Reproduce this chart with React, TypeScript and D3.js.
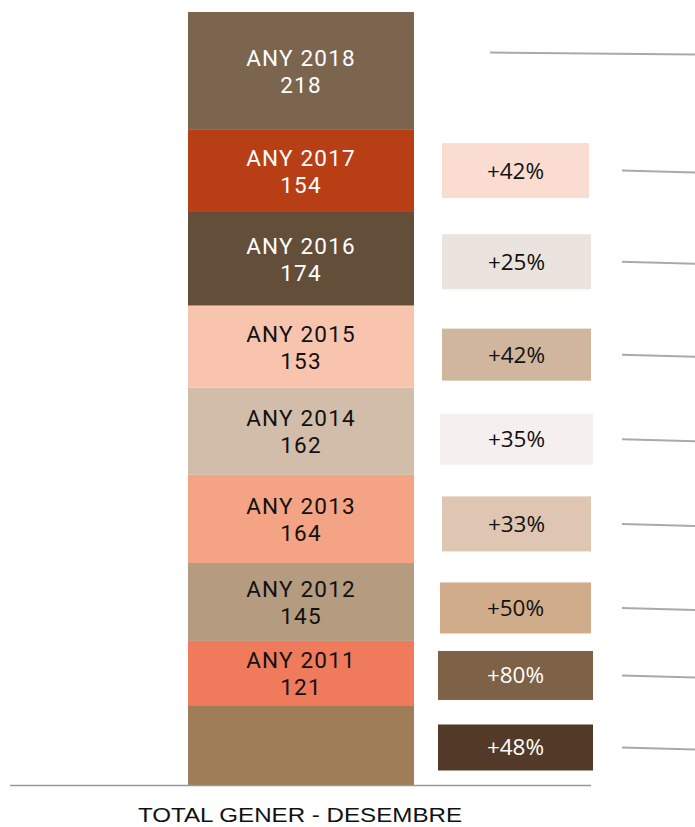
import React from "react";
import * as d3 from "d3";

const years = ["2010", "2011", "2012", "2013", "2014", "2015", "2016", "2017", "2018"];
const values = [147, 121, 145, 164, 162, 153, 174, 154, 218];
const showLabel = [false, true, true, true, true, true, true, true, true];
const segColors = ["#9f7d58", "#f07a5c", "#b59b80", "#f4a384", "#d2bdab", "#f9c4ae", "#634e39", "#b83e15", "#7b654e"];
const segText = ["#fff", "#111", "#111", "#111", "#111", "#111", "#fff", "#fff", "#fff"];

// growth annotations (per segment, 2018 has none)
const growth = ["+48%", "+80%", "+50%", "+33%", "+35%", "+42%", "+25%", "+42%", null];
const growthFill = ["#533a28", "#7d6247", "#d1ac8a", "#dfc6b3", "#f5f0ed", "#d0b69d", "#ebe3dd", "#fbdcd1", null];
const growthText = ["#fff", "#fff", "#111", "#111", "#111", "#111", "#111", "#111", null];
const growthNudge = [2, 2, 6, 5, 8, 8, 3, 0, -18];
const growthBoxH = [46, 49, 51, 55, 51, 52, 55, 55, 0];
const growthBoxX = [438, 438, 440, 442, 440, 442, 442, 442, 0];
const growthBoxW = [155, 155, 151, 149, 153, 149, 149, 147, 0];

const axisLabel = "TOTAL GENER - DESEMBRE";

export default function App() {
  const W = 695, H = 827;
  const total = d3.sum(values);
  const y = d3.scaleLinear().domain([0, total]).range([785, 12]);
  const x = d3.scaleBand().domain(["TOTAL"]).range([188, 414]).padding(0);
  const stacked = d3.cumsum(values);
  const segs = values.map((v, i) => {
    const top = stacked[i];
    const bot = top - v;
    return { i, y0: y(top), y1: y(bot), mid: (y(top) + y(bot)) / 2 };
  });
  const bx = x("TOTAL")!;
  const bw = x.bandwidth();
  const font = "'Open Sans', sans-serif";
  const labelFont = "Roboto, 'Open Sans', sans-serif";
  return (
    <svg width={W} height={H} style={{ position: "absolute", left: 0, top: 0, display: "block" }}>
      <rect width={W} height={H} fill="#fff" />
      {segs.map((s) => (
        <g key={years[s.i]}>
          <rect x={bx} y={s.y0} width={bw} height={s.y1 - s.y0} fill={segColors[s.i]} />
          {showLabel[s.i] && (
            <>
              <text x={bx + bw / 2} y={s.mid - 5} textAnchor="middle" fill={segText[s.i]} fontFamily={labelFont} fontSize={22.5} letterSpacing={1.2}>
                {`ANY ${years[s.i]}`}
              </text>
              <text x={bx + bw / 2} y={s.mid + 22} textAnchor="middle" fill={segText[s.i]} fontFamily={labelFont} fontSize={22.5} letterSpacing={1.2}>
                {values[s.i]}
              </text>
            </>
          )}
        </g>
      ))}
      {segs.map((s) => {
        const cy = s.mid + growthNudge[s.i];
        const g = growth[s.i];
        return (
          <g key={"g" + s.i}>
            <line x1={g ? 622 : 490} x2={695} y1={cy} y2={cy + 2} stroke="#aaaaaa" strokeWidth={2} />
            {g && (
              <>
                <rect x={growthBoxX[s.i]} y={cy - growthBoxH[s.i] / 2} width={growthBoxW[s.i]} height={growthBoxH[s.i]} fill={growthFill[s.i]!} />
                <text x={growthBoxX[s.i] + growthBoxW[s.i] / 2} y={cy + 8} textAnchor="middle" fill={growthText[s.i]!} fontFamily={font} fontSize={22.5}>
                  {g}
                </text>
              </>
            )}
          </g>
        );
      })}
      <line x1={10} x2={591} y1={785.5} y2={785.5} stroke="#999" strokeWidth={1.5} />
      <text x={138} y={822} textLength={324} lengthAdjust="spacingAndGlyphs" fill="#111" fontFamily="'Liberation Sans', Arial, sans-serif" fontSize={21}>
        {axisLabel}
      </text>
    </svg>
  );
}
